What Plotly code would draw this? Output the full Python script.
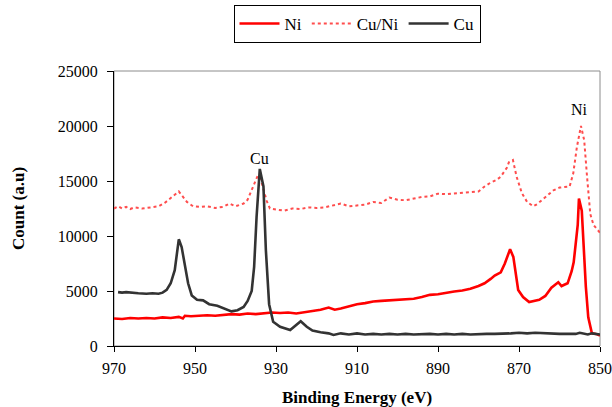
import plotly.graph_objects as go

# ---- data ----
ni_x = [970, 968, 966, 964, 962, 960, 958, 956, 954, 953, 952.5, 951, 949, 947, 945, 943, 941, 939, 937, 935,
        933, 931, 929, 927, 925, 923, 921, 919, 917, 915.5, 914, 912, 910, 908, 906, 904, 902, 900, 898, 896,
        894, 892, 890, 888, 886, 884, 882, 880, 878.5, 877, 876, 874.5, 873.5, 872.2, 871.4, 870.2, 869, 867.5,
        866, 865, 863.5, 862, 861, 860.3, 859.5, 858, 857, 856.5, 855.5, 855.2, 854.5, 853.5, 852.9, 852, 851, 850]
ni_y = [2500, 2450, 2550, 2500, 2550, 2500, 2600, 2550, 2650, 2500, 2750, 2700, 2750, 2800, 2750, 2850, 2900, 2850, 2950, 2900,
        3000, 3050, 3000, 3050, 2950, 3050, 3200, 3300, 3500, 3300, 3400, 3600, 3800, 3900, 4050, 4100, 4150, 4200, 4250, 4300,
        4450, 4650, 4700, 4850, 4950, 5050, 5200, 5450, 5700, 6100, 6400, 6700, 7500, 8800, 8100, 5100, 4450, 4000,
        4150, 4200, 4550, 5300, 5600, 5800, 5450, 5700, 6800, 7600, 11000, 13400, 12300, 5400, 2600, 1150, 1100, 950]

cuni_x = [970, 969, 968, 967, 966, 965, 963, 961, 959, 957.5, 956, 955, 954, 953, 952, 950.5, 949, 947, 945, 943,
          941.5, 940, 938, 937, 936, 935, 934.5, 933.5, 932.3, 931.5, 930, 928, 926, 924, 922, 920, 918, 916, 914, 912,
          910, 908, 906, 904, 902, 900, 898, 896, 894, 892, 890, 888, 886, 884, 882, 880, 878.5, 877, 875.5, 874.5,
          873, 872.5, 871.5, 870.6, 869.3, 868, 866.5, 865.5, 864.4, 863, 861.5, 860, 858.5, 857.5, 856.6, 855.7,
          854.7, 853.9, 853.2, 852.4, 851.6, 850.5, 850]
cuni_y = [12500, 12700, 12500, 12650, 12450, 12600, 12500, 12600, 12700, 13000, 13400, 13750, 14050, 13600, 13100, 12700, 12650, 12700, 12550, 12650,
          12950, 12700, 12950, 13300, 14200, 15200, 15500, 14800, 13200, 12500, 12400, 12300, 12500, 12450, 12600, 12550, 12600, 12800, 12950, 12700,
          12800, 12850, 13100, 13000, 13500, 13300, 13250, 13400, 13550, 13600, 13850, 13800, 13850, 13900, 13950, 14050, 14500, 14850, 15100, 15400,
          16200, 16700, 16900, 15400, 13900, 13100, 12700, 12900, 13250, 13700, 14150, 14400, 14450, 14500, 15700, 18100,
          20000, 18700, 15400, 12000, 11000, 10500, 10300]

cu_x = [969, 968, 967, 966, 964, 962, 960.5, 959, 958, 957, 956, 955, 954, 953.3, 952.5, 951.7, 950.8, 949.5, 948, 946.5,
        944.5, 942.5, 941, 939.5, 938, 937, 936, 935.4, 934.8, 934, 933.1, 932.5, 931.7, 930.7, 929, 926.5, 925.3, 923.9,
        922.4, 921, 919, 917, 915.8, 914, 912, 910, 908, 906, 904, 902, 900, 898, 896, 894, 892, 890, 888, 886, 884, 882,
        880, 878, 876, 874, 872, 870, 868, 866, 864, 862, 860, 858, 856, 855, 854, 853, 852, 851, 850]
cu_y = [4900, 4850, 4900, 4850, 4800, 4750, 4800, 4750, 4850, 5100, 5700, 6900, 9700, 9000, 7200, 5700, 4600, 4200, 4150, 3800,
        3650, 3400, 3150, 3250, 3550, 4100, 5000, 7200, 11700, 16100, 14500, 8700, 3800, 2200, 1750, 1450, 1800, 2250,
        1750, 1400, 1250, 1150, 1000, 1150, 1050, 1150, 1050, 1100, 1050, 1100, 1050, 1100, 1050, 1100, 1100, 1050, 1100, 1050, 1100, 1050,
        1100, 1100, 1100, 1100, 1150, 1200, 1150, 1200, 1150, 1100, 1100, 1100, 1100, 1200, 1100, 1050, 1150, 1100, 1050]

x_ticks = [970, 950, 930, 910, 890, 870, 850]
y_ticks = [0, 5000, 10000, 15000, 20000, 25000]

FONT = "Liberation Serif"

fig = go.Figure()
fig.add_trace(go.Scatter(x=ni_x, y=ni_y, mode="lines", name="Ni",
                         line=dict(color="#ff0000", width=2.6)))
fig.add_trace(go.Scatter(x=cuni_x, y=cuni_y, mode="lines", name="Cu/Ni",
                         line=dict(color="#ff4d4d", width=2, dash="dot")))
fig.add_trace(go.Scatter(x=cu_x, y=cu_y, mode="lines", name="Cu",
                         line=dict(color="#333333", width=2.6)))

fig.add_annotation(x=934, y=16100, text="Cu", showarrow=False, yanchor="bottom", yshift=0,
                   font=dict(family=FONT, size=16, color="black"))
fig.add_annotation(x=855, y=20000, text="Ni", showarrow=False, yanchor="bottom", yshift=6,
                   font=dict(family=FONT, size=16, color="black"))

# grey plot-area frame (top and right edges visible)
fig.add_shape(type="rect", xref="paper", yref="paper", x0=0, x1=1, y0=0, y1=1,
              line=dict(color="#8c8c8c", width=1), layer="below")

fig.update_layout(
    width=612, height=407,
    margin=dict(l=114, r=12, t=71, b=61, autoexpand=False),
    paper_bgcolor="white", plot_bgcolor="white",
    font=dict(family=FONT, size=16, color="black"),
    showlegend=True,
    legend=dict(orientation="h", x=0.5, xanchor="center", y=1.24, yanchor="top",
                bordercolor="black", borderwidth=1, bgcolor="white",
                font=dict(family=FONT, size=17), itemwidth=40, tracegroupgap=0),
    xaxis=dict(range=[970, 850], tickvals=x_ticks, ticktext=[str(v) for v in x_ticks],
               showgrid=False, zeroline=False, showline=True, linecolor="black", linewidth=1,
               ticks="outside", ticklen=5, tickcolor="black", automargin=False,
               ticklabelstandoff=3,
               tickfont=dict(family=FONT, size=16),
               title=dict(text="<b>Binding Energy (eV)</b>", standoff=25,
                          font=dict(family=FONT, size=17))),
    yaxis=dict(range=[0, 25000], tickvals=y_ticks, ticktext=[str(v) for v in y_ticks],
               showgrid=False, zeroline=False, showline=True, linecolor="black", linewidth=1,
               ticks="outside", ticklen=6, tickcolor="black", automargin=False,
               ticklabelstandoff=6,
               tickfont=dict(family=FONT, size=16),
               title=dict(text="<b>Count (a.u)</b>", standoff=28,
                          font=dict(family=FONT, size=17))),
)

fig.write_html("out.html", config={"displayModeBar": False},
               post_script="document.body.style.margin='0px';")
